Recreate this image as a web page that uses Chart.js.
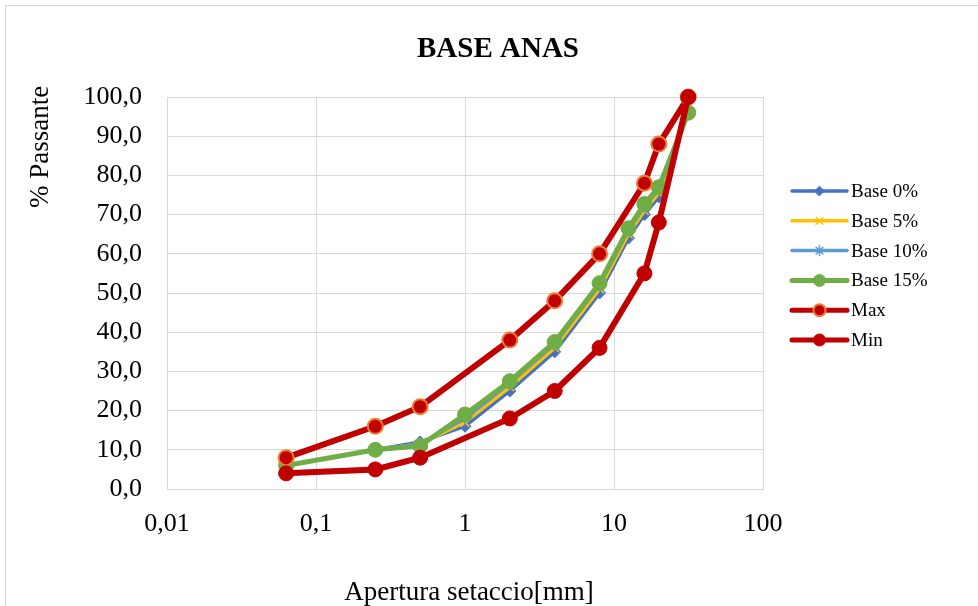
<!DOCTYPE html>
<html>
<head>
<meta charset="utf-8">
<script src="https://cdn.jsdelivr.net/npm/chart.js@4/dist/chart.umd.min.js"></script>
<style>
  html, body { margin: 0; padding: 0; background: #fff; }
  #wrap { position: relative; width: 978px; height: 606px; overflow: hidden; }
  #frame { position: absolute; left: 5px; top: 5px; right: -5px; bottom: -5px;
           border-left: 1px solid #d9d9d9; border-top: 1px solid #d9d9d9; }
  canvas { position: absolute; left: 0; top: 0; }
</style>
</head>
<body>
<div id="wrap">
  <div id="frame"></div>
  <canvas id="chart" width="978" height="606"></canvas>
</div>
<script>
// sieve openings (mm)
const sieveBase = [0.063, 0.25, 0.5, 1, 2, 4, 8, 12.5, 16, 20, 31.5];
const sieveLimits = [0.063, 0.25, 0.5, 2, 4, 8, 16, 20, 31.5];

// % passing
const base0 = [6, 10, 12, 16, 25, 35, 50, 64, 70, 74.5, 96];
const base5 = [6, 10, 11.5, 17, 26, 36, 51, 65, 71, 75.5, 96];
const base10 = [6, 10, 11.5, 18, 27, 37, 52, 66, 72, 76.5, 96];
const base15 = [6, 10, 11, 19, 27.5, 37.5, 52.5, 66.5, 72.7, 77, 96];
const maxVals = [8, 16, 21, 38, 48, 60, 78, 88, 100];
const minVals = [4, 5, 8, 18, 25, 36, 55, 68, 100];

const seriesNames = ['Base 0%', 'Base 5%', 'Base 10%', 'Base 15%', 'Max', 'Min'];
const xTickValues = [0.01, 0.1, 1, 10, 100];
const xTickLabels = ['0,01', '0,1', '1', '10', '100'];

const FONT = "'Liberation Serif', 'Times New Roman', serif";

function pts(xs, ys) {
  return xs.map((x, i) => ({x: x, y: ys[i]}));
}

const datasets = [
  { label: seriesNames[0], data: pts(sieveBase, base0), borderColor: '#4472c4', backgroundColor: '#4472c4',
    borderWidth: 3.5, pointStyle: 'rectRot', pointRadius: 6, pointBorderWidth: 1, order: 5 },
  { label: seriesNames[1], data: pts(sieveBase, base5), borderColor: '#ffc000', backgroundColor: '#ffc000',
    borderWidth: 3.5, pointStyle: 'crossRot', pointRadius: 6, pointBorderWidth: 1.5, order: 4 },
  { label: seriesNames[2], data: pts(sieveBase, base10), borderColor: '#5b9bd5', backgroundColor: '#5b9bd5',
    borderWidth: 3.5, pointStyle: 'star', pointRadius: 6, pointBorderWidth: 1.5, order: 3 },
  { label: seriesNames[3], data: pts(sieveBase, base15), borderColor: '#70ad47', backgroundColor: '#70ad47',
    borderWidth: 5, pointStyle: 'circle', pointRadius: 7.5, pointBorderWidth: 1, order: 2 },
  { label: seriesNames[4], data: pts(sieveLimits, maxVals), borderColor: '#c00000', backgroundColor: '#c00000',
    pointBorderColor: '#ed7d31', borderWidth: 6, pointStyle: 'circle', pointRadius: 7.5, pointBorderWidth: 2, order: 1 },
  { label: seriesNames[5], data: pts(sieveLimits, minVals), borderColor: '#c00000', backgroundColor: '#c00000',
    borderWidth: 6, pointStyle: 'circle', pointRadius: 7.5, pointBorderWidth: 1, order: 0 }
];
datasets.forEach(d => {
  d.pointBackgroundColor = d.backgroundColor;
  if (!d.pointBorderColor) d.pointBorderColor = d.borderColor;
  d.tension = 0;
  d.clip = false;
  d.fill = false;
});

// titles and legend drawn on the canvas
const decorPlugin = {
  id: 'decor',
  afterDraw(chart) {
    const ctx = chart.ctx;
    ctx.save();
    ctx.fillStyle = '#000';
    // chart title
    ctx.font = 'bold 29px ' + FONT;
    ctx.textAlign = 'center';
    ctx.textBaseline = 'middle';
    ctx.fillText('BASE ANAS', 498, 50);
    // x axis title
    ctx.font = '27px ' + FONT;
    ctx.fillText('Apertura setaccio[mm]', 469, 593);
    // y axis title
    ctx.save();
    ctx.translate(41, 147);
    ctx.rotate(-Math.PI / 2);
    ctx.fillText('% Passante', 0, 0);
    ctx.restore();

    // legend
    const lx0 = 792, lx1 = 847, tx = 851, y0 = 191, dy = 29.8;
    chart.data.datasets.forEach((ds, i) => {
      const y = y0 + i * dy;
      ctx.strokeStyle = ds.borderColor;
      ctx.lineWidth = Math.min(ds.borderWidth, 5);
      ctx.lineCap = 'round';
      ctx.beginPath();
      ctx.moveTo(lx0, y);
      ctx.lineTo(lx1, y);
      ctx.stroke();
      ctx.fillStyle = ds.pointBackgroundColor;
      ctx.strokeStyle = ds.pointBorderColor;
      ctx.lineWidth = ds.pointBorderWidth;
      Chart.helpers.drawPoint(ctx, {
        pointStyle: ds.pointStyle,
        radius: ds.pointRadius * 0.8,
        borderWidth: ds.pointBorderWidth,
        rotation: 0
      }, (lx0 + lx1) / 2, y);
      ctx.fillStyle = '#000';
      ctx.font = '19px ' + FONT;
      ctx.textAlign = 'left';
      ctx.textBaseline = 'middle';
      ctx.fillText(ds.label, tx, y + 1);
    });
    ctx.restore();
  }
};

new Chart(document.getElementById('chart'), {
  type: 'line',
  data: { datasets: datasets },
  options: {
    responsive: false,
    animation: false,
    layout: { padding: { top: 97, right: 215, left: 0, bottom: 0 } },
    plugins: {
      legend: { display: false },
      title: { display: false },
      tooltip: { enabled: false }
    },
    scales: {
      x: {
        type: 'logarithmic',
        min: 0.01,
        max: 100,
        afterFit: s => { s.height = 117; },
        afterBuildTicks: s => { s.ticks = xTickValues.map(v => ({value: v})); },
        ticks: {
          autoSkip: false,
          maxRotation: 0,
          padding: 20,
          color: '#000',
          font: { family: FONT, size: 26 },
          callback: function(v) {
            const i = xTickValues.indexOf(v);
            return i >= 0 ? xTickLabels[i] : '';
          }
        },
        grid: { color: '#d9d9d9', lineWidth: 1, drawTicks: false },
        border: { color: '#d9d9d9' }
      },
      y: {
        min: 0,
        max: 100,
        afterFit: s => { s.width = 167; },
        ticks: {
          stepSize: 10,
          padding: 25,
          color: '#000',
          font: { family: FONT, size: 26 },
          callback: v => v.toFixed(1).replace('.', ',')
        },
        grid: { color: '#d9d9d9', lineWidth: 1, drawTicks: false },
        border: { color: '#d9d9d9' }
      }
    }
  },
  plugins: [decorPlugin]
});
</script>
</body>
</html>
